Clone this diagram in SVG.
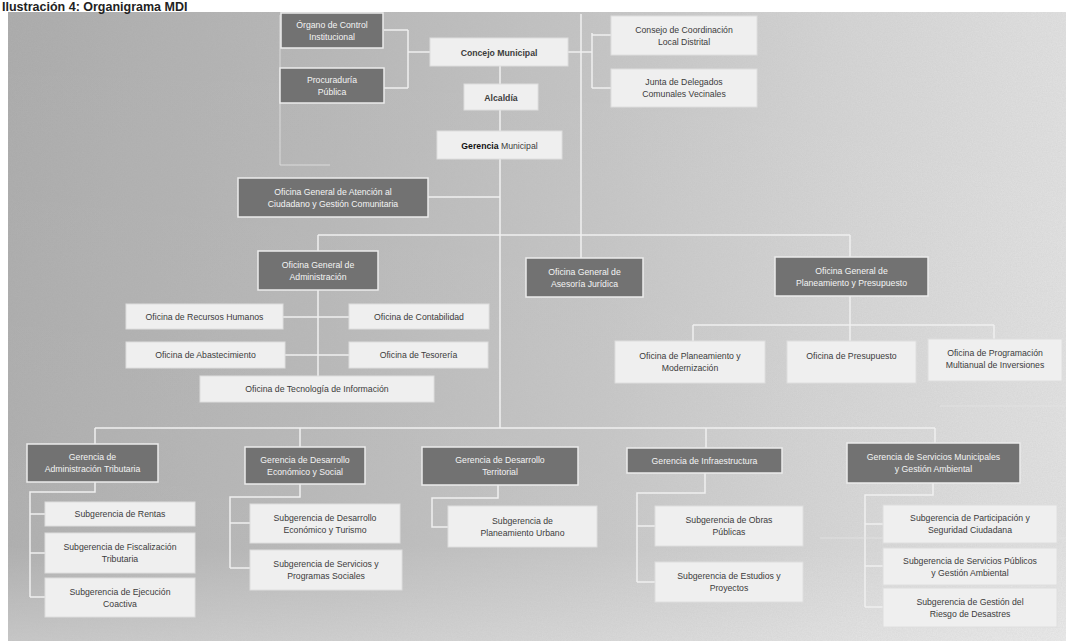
<svg xmlns="http://www.w3.org/2000/svg" width="1066" height="641" viewBox="0 0 1066 641">
<defs>
<linearGradient id="bg" x1="0" y1="0" x2="1" y2="0">
<stop offset="0" stop-color="#a9a9a9"/>
<stop offset="0.3" stop-color="#b6b6b6"/>
<stop offset="0.55" stop-color="#c4c4c4"/>
<stop offset="0.8" stop-color="#d6d6d6"/>
<stop offset="1" stop-color="#e2e2e2"/>
</linearGradient>
<linearGradient id="bgv" x1="0" y1="0" x2="0" y2="1">
<stop offset="0" stop-color="#ffffff" stop-opacity="0"/>
<stop offset="0.85" stop-color="#ffffff" stop-opacity="0.05"/>
<stop offset="1" stop-color="#ffffff" stop-opacity="0.35"/>
</linearGradient>
<filter id="noise" x="0" y="0" width="100%" height="100%">
<feTurbulence type="fractalNoise" baseFrequency="0.8" numOctaves="2" seed="3"/>
<feColorMatrix type="matrix" values="0 0 0 0 0.5  0 0 0 0 0.5  0 0 0 0 0.5  0 0 0 0.4 0"/>
</filter>
<style>
.dk{fill:#727272;stroke:#ececec;stroke-width:1.5}
.wt{fill:#efefef;stroke:#dedede;stroke-width:1}
.tw{fill:#f4f4f4;font-family:"Liberation Sans",Arial,sans-serif;font-size:8.7px;text-anchor:middle}
.tk{fill:#3c3c3c;font-family:"Liberation Sans",Arial,sans-serif;font-size:8.7px;text-anchor:middle}
.ln{stroke:#f0f0f0;stroke-width:1.5;fill:none}
.fl{stroke:#e4e4e4;stroke-width:1;fill:none;opacity:0.8}
</style>
</defs>
<rect x="0" y="0" width="1066" height="641" fill="#ffffff"/>
<rect x="8" y="12" width="1058" height="629" fill="url(#bg)"/>
<rect x="8" y="12" width="1058" height="629" fill="url(#bgv)"/>
<rect x="8" y="12" width="1058" height="629" filter="url(#noise)" opacity="0.7"/>
<text x="2" y="10.5" font-family="Liberation Sans,Arial,sans-serif" font-size="12.5" font-weight="bold" fill="#222">Ilustración 4: Organigrama MDI</text>

<g id="connectors">
<path class="ln" d="M500 66V428"/>
<path class="ln" d="M384 30H408M384 88H408M408 30V88M408 52H430"/>
<path class="ln" d="M568 52H592M592 33V88M592 35H611M592 88H611"/>
<path class="ln" d="M581 14V258"/>
<path class="fl" d="M280 15V165M280 165H330"/>
<path class="ln" d="M428 197H500"/>
<path class="ln" d="M318 235H850M318 235V251M850 235V257"/>
<path class="ln" d="M318 290V376M283 317H349M285 355H349"/>
<path class="ln" d="M850 296V341M693 325H994M693 325V341M994 325V339"/>
<path class="fl" d="M940 406H1066"/>
<path class="ln" d="M95 428H935M95 428V444M300 428V447M706 428V448M935 428V443"/>
<path class="ln" d="M95 482V492H30V597M30 514H45M30 553H45M30 597H45"/>
<path class="ln" d="M300 484V497H230V568M230 523H250M230 568H250"/>
<path class="ln" d="M498 485V498H432V527H448"/>
<path class="ln" d="M705 473V493H637V582M637 526H655M637 582H655"/>
<path class="ln" d="M933 483V495H865V607M865 524H883M865 566H883M865 607H883"/>
<path class="fl" d="M820 538H1066"/>
</g>

<g id="organo"><rect class="dk" x="281" y="13" width="102" height="35"/><text class="tw" x="332" y="27.5">Órgano de Control<tspan x="332" dy="12">Institucional</tspan></text></g>
<g id="procuraduria"><rect class="dk" x="280" y="68" width="104" height="35"/><text class="tw" x="332" y="82.5">Procuraduría<tspan x="332" dy="12">Pública</tspan></text></g>
<g id="concejo"><rect class="wt" x="430" y="38" width="138" height="28" fill="#f7f7f7"/><text class="tk" x="499" y="56" font-size="11" font-weight="bold" fill="#111">Concejo Municipal</text></g>
<g id="alcaldia"><rect class="wt" x="464" y="84" width="74" height="26"/><text class="tk" x="501" y="100.5" font-size="10" font-weight="bold" fill="#111">Alcaldía</text></g>
<g id="gerencia-municipal"><rect class="wt" x="437" y="131" width="125" height="28"/><text class="tk" x="499.5" y="149" font-size="10"><tspan font-weight="bold" fill="#111">Gerencia</tspan> Municipal</text></g>
<g id="consejo"><rect class="wt" x="611" y="16" width="146" height="39"/><text class="tk" x="684" y="32.5">Consejo de Coordinación<tspan x="684" dy="12">Local Distrital</tspan></text></g>
<g id="junta"><rect class="wt" x="611" y="69" width="146" height="38"/><text class="tk" x="684" y="85">Junta de Delegados<tspan x="684" dy="12">Comunales Vecinales</tspan></text></g>

<g id="atencion"><rect class="dk" x="238" y="178" width="190" height="39"/><text class="tw" x="333" y="194.5">Oficina General de Atención al<tspan x="333" dy="12">Ciudadano y Gestión Comunitaria</tspan></text></g>
<g id="administracion"><rect class="dk" x="258" y="251" width="120" height="39"/><text class="tw" x="318" y="267.5">Oficina General de<tspan x="318" dy="12">Administración</tspan></text></g>
<g id="asesoria"><rect class="dk" x="526" y="258" width="117" height="39"/><text class="tw" x="584.5" y="274.5">Oficina General de<tspan x="584.5" dy="12">Asesoría Jurídica</tspan></text></g>
<g id="planeamiento-presupuesto"><rect class="dk" x="775" y="257" width="153" height="39"/><text class="tw" x="851.5" y="273.5">Oficina General de<tspan x="851.5" dy="12">Planeamiento y Presupuesto</tspan></text></g>

<g id="rrhh"><rect class="wt" x="126" y="304" width="157" height="25"/><text class="tk" x="204.5" y="320">Oficina de Recursos Humanos</text></g>
<g id="contabilidad"><rect class="wt" x="349" y="304" width="140" height="25"/><text class="tk" x="419" y="320">Oficina de Contabilidad</text></g>
<g id="abastecimiento"><rect class="wt" x="126" y="342" width="159" height="26"/><text class="tk" x="205.5" y="358">Oficina de Abastecimiento</text></g>
<g id="tesoreria"><rect class="wt" x="349" y="342" width="139" height="26"/><text class="tk" x="418.5" y="358">Oficina de Tesorería</text></g>
<g id="tecnologia"><rect class="wt" x="200" y="376" width="234" height="26"/><text class="tk" x="317" y="392">Oficina de Tecnología de Información</text></g>

<g id="planeamiento-modernizacion"><rect class="wt" x="615" y="341" width="150" height="42"/><text class="tk" x="690" y="359">Oficina de Planeamiento y<tspan x="690" dy="12">Modernización</tspan></text></g>
<g id="presupuesto"><rect class="wt" x="787" y="341" width="129" height="42"/><text class="tk" x="851.5" y="359">Oficina de Presupuesto</text></g>
<g id="programacion"><rect class="wt" x="928" y="339" width="134" height="42"/><text class="tk" x="995" y="356">Oficina de Programación<tspan x="995" dy="12">Multianual de Inversiones</tspan></text></g>

<g id="g-tributaria"><rect class="dk" x="27" y="444" width="131" height="38"/><text class="tw" x="92.5" y="460">Gerencia de<tspan x="92.5" dy="12">Administración Tributaria</tspan></text></g>
<g id="g-economico"><rect class="dk" x="245" y="447" width="120" height="37"/><text class="tw" x="305" y="462.5">Gerencia de Desarrollo<tspan x="305" dy="12">Económico y Social</tspan></text></g>
<g id="g-territorial"><rect class="dk" x="422" y="447" width="156" height="38"/><text class="tw" x="500" y="463">Gerencia de Desarrollo<tspan x="500" dy="12">Territorial</tspan></text></g>
<g id="g-infraestructura"><rect class="dk" x="627" y="448" width="155" height="25"/><text class="tw" x="704.5" y="464">Gerencia de Infraestructura</text></g>
<g id="g-servicios"><rect class="dk" x="847" y="443" width="173" height="40"/><text class="tw" x="933.5" y="460">Gerencia de Servicios Municipales<tspan x="933.5" dy="12">y Gestión Ambiental</tspan></text></g>

<g id="rentas"><rect class="wt" x="45" y="502" width="150" height="24"/><text class="tk" x="120" y="517">Subgerencia de Rentas</text></g>
<g id="fiscalizacion"><rect class="wt" x="45" y="533" width="150" height="40"/><text class="tk" x="120" y="550">Subgerencia de Fiscalización<tspan x="120" dy="12">Tributaria</tspan></text></g>
<g id="coactiva"><rect class="wt" x="45" y="578" width="150" height="39"/><text class="tk" x="120" y="594.5">Subgerencia de Ejecución<tspan x="120" dy="12">Coactiva</tspan></text></g>
<g id="desarrollo-turismo"><rect class="wt" x="250" y="504" width="150" height="39"/><text class="tk" x="325" y="520.5">Subgerencia de Desarrollo<tspan x="325" dy="12">Económico y Turismo</tspan></text></g>
<g id="programas-sociales"><rect class="wt" x="250" y="550" width="152" height="40"/><text class="tk" x="326" y="567">Subgerencia de Servicios y<tspan x="326" dy="12">Programas Sociales</tspan></text></g>
<g id="planeamiento-urbano"><rect class="wt" x="448" y="506" width="149" height="41"/><text class="tk" x="522.5" y="523.5">Subgerencia de<tspan x="522.5" dy="12">Planeamiento Urbano</tspan></text></g>
<g id="obras"><rect class="wt" x="655" y="506" width="148" height="40"/><text class="tk" x="729" y="523">Subgerencia de Obras<tspan x="729" dy="12">Públicas</tspan></text></g>
<g id="estudios"><rect class="wt" x="655" y="562" width="148" height="40"/><text class="tk" x="729" y="579">Subgerencia de Estudios y<tspan x="729" dy="12">Proyectos</tspan></text></g>
<g id="participacion"><rect class="wt" x="883" y="505" width="174" height="38"/><text class="tk" x="970" y="521">Subgerencia de Participación y<tspan x="970" dy="12">Seguridad Ciudadana</tspan></text></g>
<g id="servicios-publicos"><rect class="wt" x="883" y="548" width="174" height="37"/><text class="tk" x="970" y="563.5">Subgerencia de Servicios Públicos<tspan x="970" dy="12">y Gestión Ambiental</tspan></text></g>
<g id="riesgo"><rect class="wt" x="883" y="588" width="174" height="39"/><text class="tk" x="970" y="604.5">Subgerencia de Gestión del<tspan x="970" dy="12">Riesgo de Desastres</tspan></text></g>
</svg>
